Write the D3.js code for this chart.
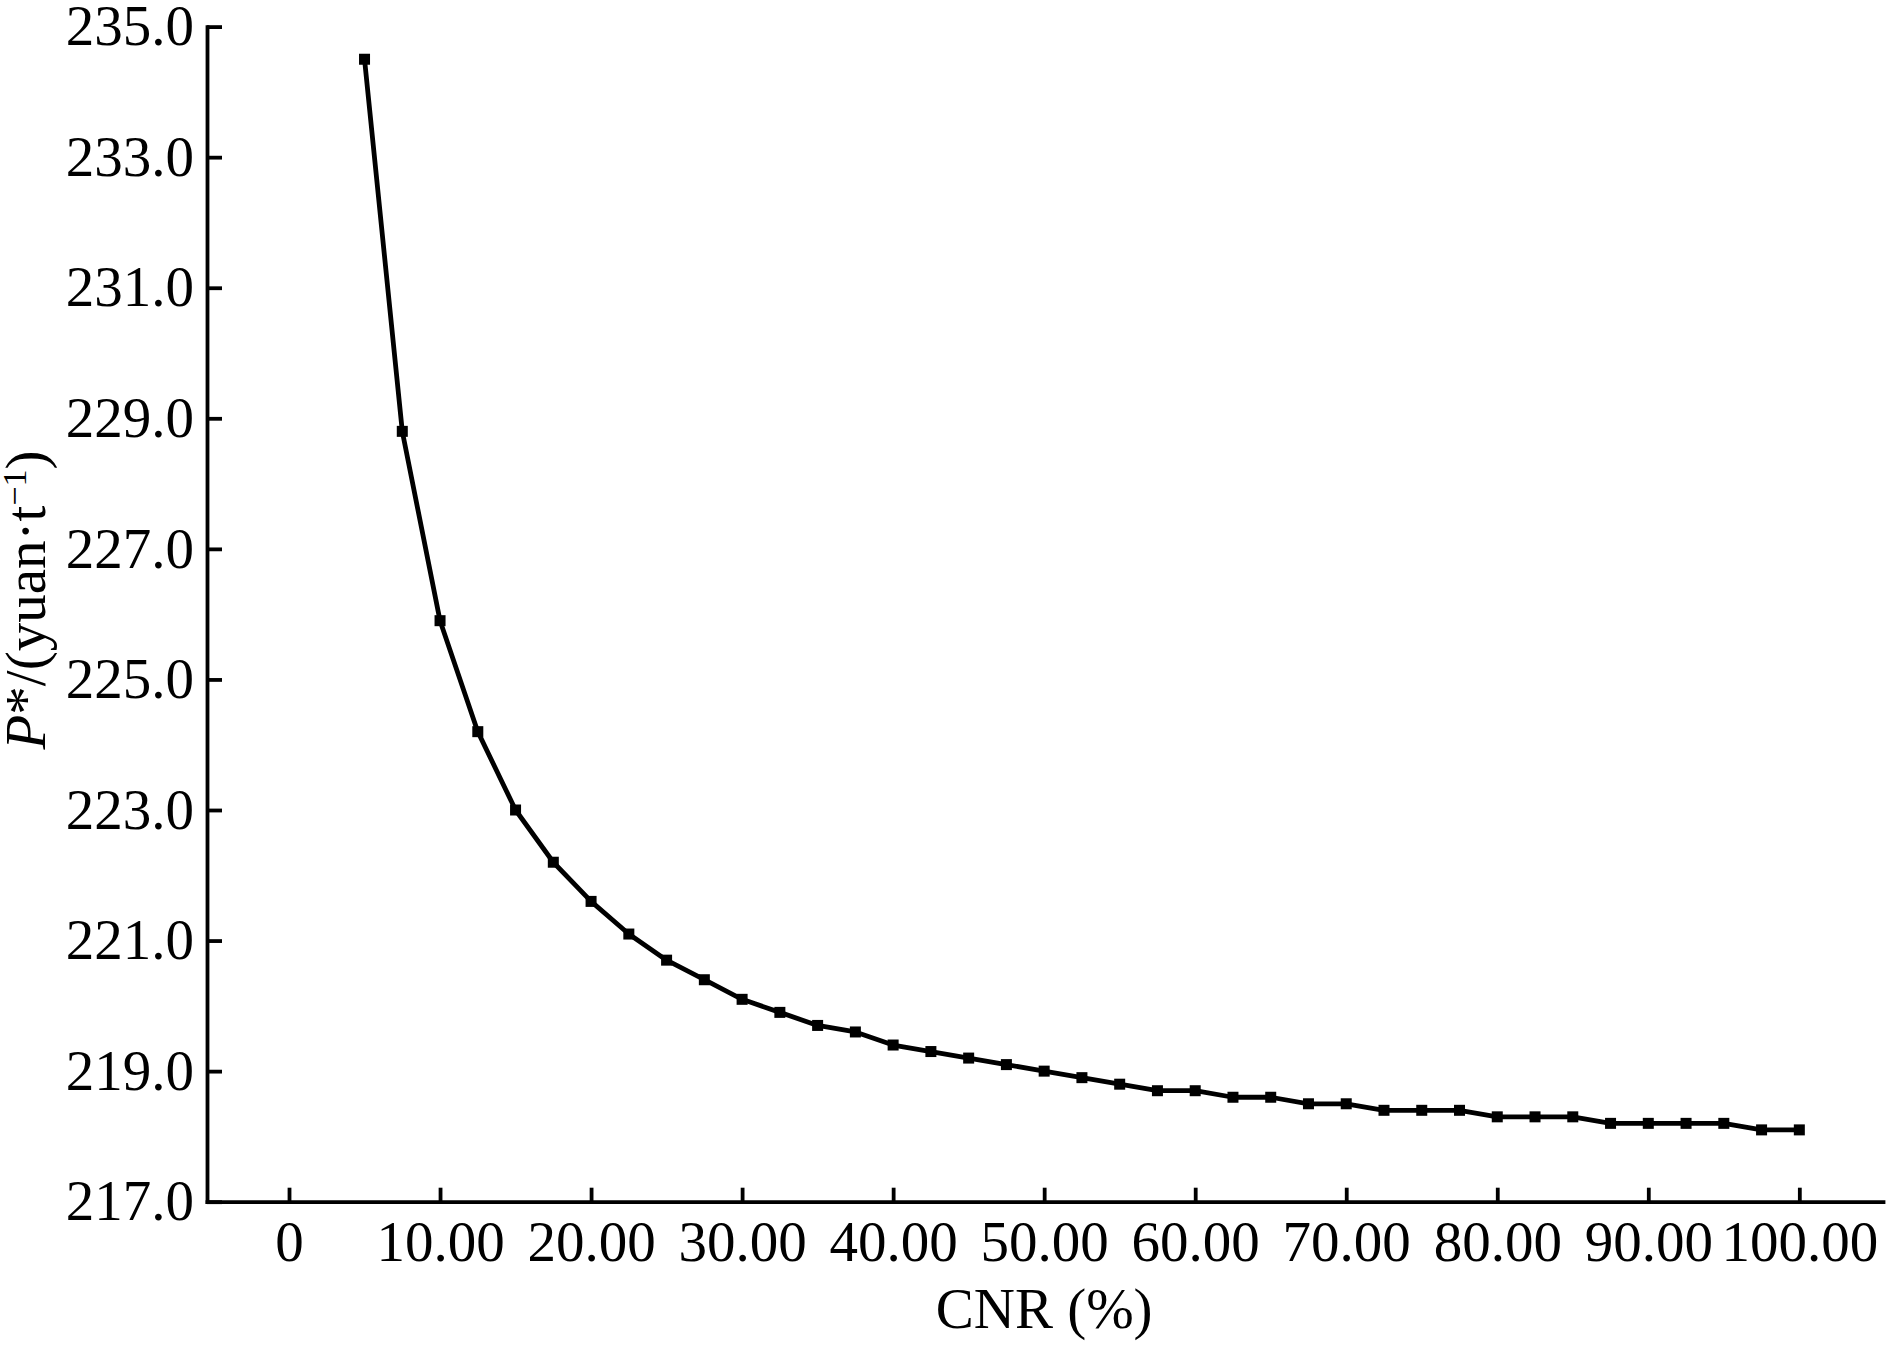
<!DOCTYPE html>
<html>
<head>
<meta charset="utf-8">
<script src="https://cdn.jsdelivr.net/npm/d3@7"></script>
<style>
  html, body { margin: 0; padding: 0; background: #fff; }
  svg { display: block; }
  text { font-family: "Liberation Serif", "Times New Roman", serif; fill: #000; }
</style>
</head>
<body>
<svg id="chart" width="1890" height="1346"></svg>
<script>
// ---- data ----
const cnr = [5, 7.5, 10, 12.5, 15, 17.5, 20, 22.5, 25, 27.5, 30, 32.5, 35, 37.5, 40,
             42.5, 45, 47.5, 50, 52.5, 55, 57.5, 60, 62.5, 65, 67.5, 70, 72.5, 75,
             77.5, 80, 82.5, 85, 87.5, 90, 92.5, 95, 97.5, 100];
const price = [234.5, 228.8, 225.9, 224.2, 223.0, 222.2, 221.6, 221.1, 220.7, 220.4,
               220.1, 219.9, 219.7, 219.6, 219.4, 219.3, 219.2, 219.1, 219.0, 218.9,
               218.8, 218.7, 218.7, 218.6, 218.6, 218.5, 218.5, 218.4, 218.4, 218.4,
               218.3, 218.3, 218.3, 218.2, 218.2, 218.2, 218.2, 218.1, 218.1];
const xTicks = [0, 10, 20, 30, 40, 50, 60, 70, 80, 90, 100];
const xTickLabels = ["0", "10.00", "20.00", "30.00", "40.00", "50.00", "60.00", "70.00", "80.00", "90.00", "100.00"];
const yTicks = [217, 219, 221, 223, 225, 227, 229, 231, 233, 235];
const xTitle = "CNR (%)";

// ---- layout ----
const svg = d3.select("#chart");
const x = d3.scaleLinear().domain([-5.43, 105.54]).range([207, 1883]);
const y = d3.scaleLinear().domain([217, 235]).range([1201.7, 26.6]);
const fontSize = 57;

// x axis
const xAxis = d3.axisBottom(x)
  .tickValues(xTicks)
  .tickFormat((d, i) => xTickLabels[i])
  .tickSizeInner(-14)
  .tickSizeOuter(0)
  .tickPadding(19);
const gx = svg.append("g").attr("transform", `translate(0,${y(217)})`).call(xAxis);

// y axis
const yAxis = d3.axisLeft(y)
  .tickValues(yTicks)
  .tickFormat(d3.format(".1f"))
  .tickSizeInner(-15)
  .tickSizeOuter(0)
  .tickPadding(13);
const gy = svg.append("g").attr("transform", `translate(${x.range()[0]},0)`).call(yAxis);

[gx, gy].forEach(g => {
  g.select(".domain").attr("stroke", "#000").attr("stroke-width", 3.8).attr("stroke-linecap", "square");
  g.selectAll(".tick line").attr("stroke", "#000").attr("stroke-width", 3.8);
  g.selectAll(".tick text")
    .attr("font-family", "Liberation Serif, Times New Roman, serif")
    .attr("font-size", fontSize)
    .attr("fill", "#000");
});

// line
const data = cnr.map((c, i) => ({ c, p: price[i] }));
const line = d3.line().x(d => x(d.c)).y(d => y(d.p));
svg.append("path")
  .datum(data)
  .attr("d", line)
  .attr("fill", "none")
  .attr("stroke", "#000")
  .attr("stroke-width", 4.8)
  .attr("stroke-linejoin", "round");

// markers
const ms = 11;
svg.append("g").selectAll("rect")
  .data(data)
  .join("rect")
  .attr("x", d => x(d.c) - ms / 2)
  .attr("y", d => y(d.p) - ms / 2)
  .attr("width", ms)
  .attr("height", ms)
  .attr("fill", "#000");

// x title
svg.append("text")
  .attr("x", x(50))
  .attr("y", 1328)
  .attr("text-anchor", "middle")
  .attr("font-size", fontSize)
  .text(xTitle);

// y title
const yt = svg.append("text")
  .attr("transform", "translate(45,600) rotate(-90)")
  .attr("text-anchor", "middle")
  .attr("font-size", fontSize);
yt.append("tspan").attr("font-style", "italic").text("P");
yt.append("tspan").text("*/(yuan\u00B7t");
yt.append("tspan").attr("font-size", 34).attr("dy", -19).text("\u22121");
yt.append("tspan").attr("dy", 19).text(")");
</script>
</body>
</html>
